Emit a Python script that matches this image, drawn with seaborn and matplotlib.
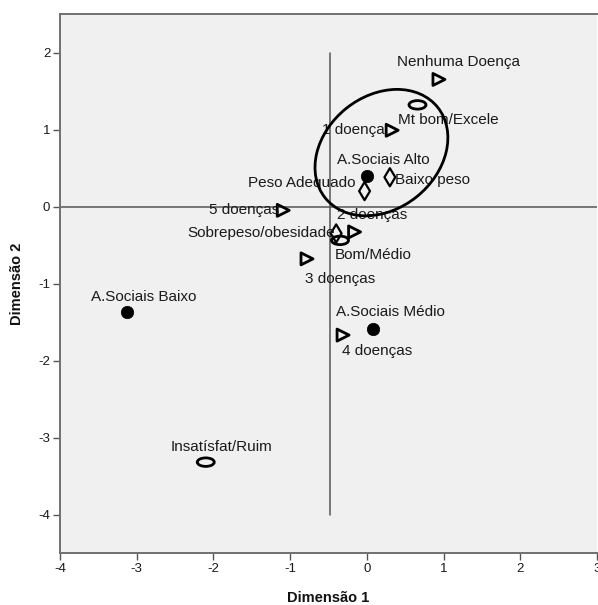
import numpy as np
import pandas as pd
import matplotlib
matplotlib.use("Agg")
import matplotlib.pyplot as plt
from matplotlib.path import Path
from matplotlib.patches import Ellipse
import seaborn as sns

# Category points (Dimensão 1, Dimensão 2) by variable
apoio_labels = ["A.Sociais Alto", "A.Sociais Médio", "A.Sociais Baixo"]
apoio_d1 = [0.00, 0.08, -3.13]
apoio_d2 = [0.40, -1.59, -1.37]

doencas_labels = ["Nenhuma Doença", "1 doença", "2 doenças", "3 doenças",
                  "4 doenças", "5 doenças"]
doencas_d1 = [0.94, 0.33, -0.16, -0.78, -0.31, -1.09]
doencas_d2 = [1.65, 0.99, -0.33, -0.68, -1.67, -0.05]

peso_labels = ["Baixo peso", "Peso Adequado", "Sobrepeso/obesidade"]
peso_d1 = [0.30, -0.03, -0.40]
peso_d2 = [0.38, 0.20, -0.35]

saude_labels = ["Mt bom/Excele", "Bom/Médio", "Insatísfat/Ruim"]
saude_d1 = [0.66, -0.35, -2.10]
saude_d2 = [1.32, -0.44, -3.32]

x_ticks = [-4, -3, -2, -1, 0, 1, 2, 3]
y_ticks = [2, 1, 0, -1, -2, -3, -4]

sns.set_theme(style="white")
plt.rcParams["font.family"] = ["Liberation Sans", "DejaVu Sans"]

fig = plt.figure(figsize=(5.98, 6.05), dpi=100)
ax = fig.add_axes([60 / 598, 52 / 605, 537 / 598, 539 / 605])
ax.set_facecolor("#f0f0f0")

# horizontal ellipse marker for the health self-rating
circle = Path.unit_circle()
ellipse_marker = Path(circle.vertices * np.array([1.0, 0.5]), circle.codes)

groups = [
    (apoio_labels, apoio_d1, apoio_d2, "o", dict(s=80, color="black", edgecolor="black", linewidth=0.5)),
    (doencas_labels, doencas_d1, doencas_d2, ">", dict(s=75, facecolor="none", edgecolor="black", linewidth=2.0)),
    (peso_labels, peso_d1, peso_d2, "d", dict(s=85, facecolor="none", edgecolor="black", linewidth=1.6)),
    (saude_labels, saude_d1, saude_d2, ellipse_marker, dict(s=150, facecolor="none", edgecolor="black", linewidth=2.0)),
]

for labels, d1, d2, marker, kws in groups:
    df = pd.DataFrame({"d1": d1, "d2": d2, "label": labels})
    sns.scatterplot(data=df, x="d1", y="d2", marker=marker, ax=ax, zorder=4,
                    legend=False, **kws)

# label offsets in pixels and alignment
label_pos = {
    "Nenhuma Doença": (20, 17, "center"),
    "Mt bom/Excele": (31, -15, "center"),
    "1 doença": (-7, 0, "right"),
    "A.Sociais Alto": (16, 16, "center"),
    "Baixo peso": (5, -3, "left"),
    "Peso Adequado": (-9, 8, "right"),
    "5 doenças": (-4, 0, "right"),
    "2 doenças": (18, 17, "center"),
    "Sobrepeso/obesidade": (-1, 0, "right"),
    "Bom/Médio": (33, -15, "center"),
    "3 doenças": (33, -20, "center"),
    "A.Sociais Baixo": (17, 15, "center"),
    "A.Sociais Médio": (17, 17, "center"),
    "4 doenças": (34, -16, "center"),
    "Insatísfat/Ruim": (16, 15, "center"),
}

for labels, d1, d2, _, _ in groups:
    for lab, x, y in zip(labels, d1, d2):
        dx, dy, ha = label_pos[lab]
        ax.annotate(lab, (x, y), xytext=(dx, dy), textcoords="offset pixels",
                    ha=ha, va="center", fontsize=11, color="#1a1a1a", zorder=5)

# reference lines
ax.axhline(0, color="#555555", lw=1.1, zorder=2)
ax.plot([-0.48, -0.48], [2, -4], color="#555555", lw=1.1, zorder=2)

# highlighted cluster
ax.add_patch(Ellipse((0.19, 0.70), width=1.88, height=1.47, angle=38.6,
                     fill=False, edgecolor="black", lw=2.0, zorder=6))

ax.set_xlim(-4, 3)
ax.set_ylim(-4.5, 2.5)
ax.set_xticks(x_ticks)
ax.set_yticks(y_ticks)
ax.set_xticklabels([str(t) for t in x_ticks])
ax.set_yticklabels([str(t) for t in y_ticks])
ax.tick_params(axis="both", direction="out", length=5, width=1, color="#555555",
               labelsize=9.5, labelcolor="#1a1a1a", pad=2, bottom=True, left=True)

for side in ["left", "bottom", "top"]:
    ax.spines[side].set_visible(True)
    ax.spines[side].set_color("#707070")
    ax.spines[side].set_linewidth(1.4)
ax.spines["right"].set_visible(False)

label_font = dict(family=["Liberation Sans Narrow", "Liberation Sans", "DejaVu Sans"],
                  weight="bold", size=10.5, color="#111111")
ax.set_xlabel("Dimensão 1", labelpad=12, **label_font)
ax.set_ylabel("Dimensão 2", labelpad=10, **label_font)

fig.savefig("out.png", dpi=100, facecolor="white")
